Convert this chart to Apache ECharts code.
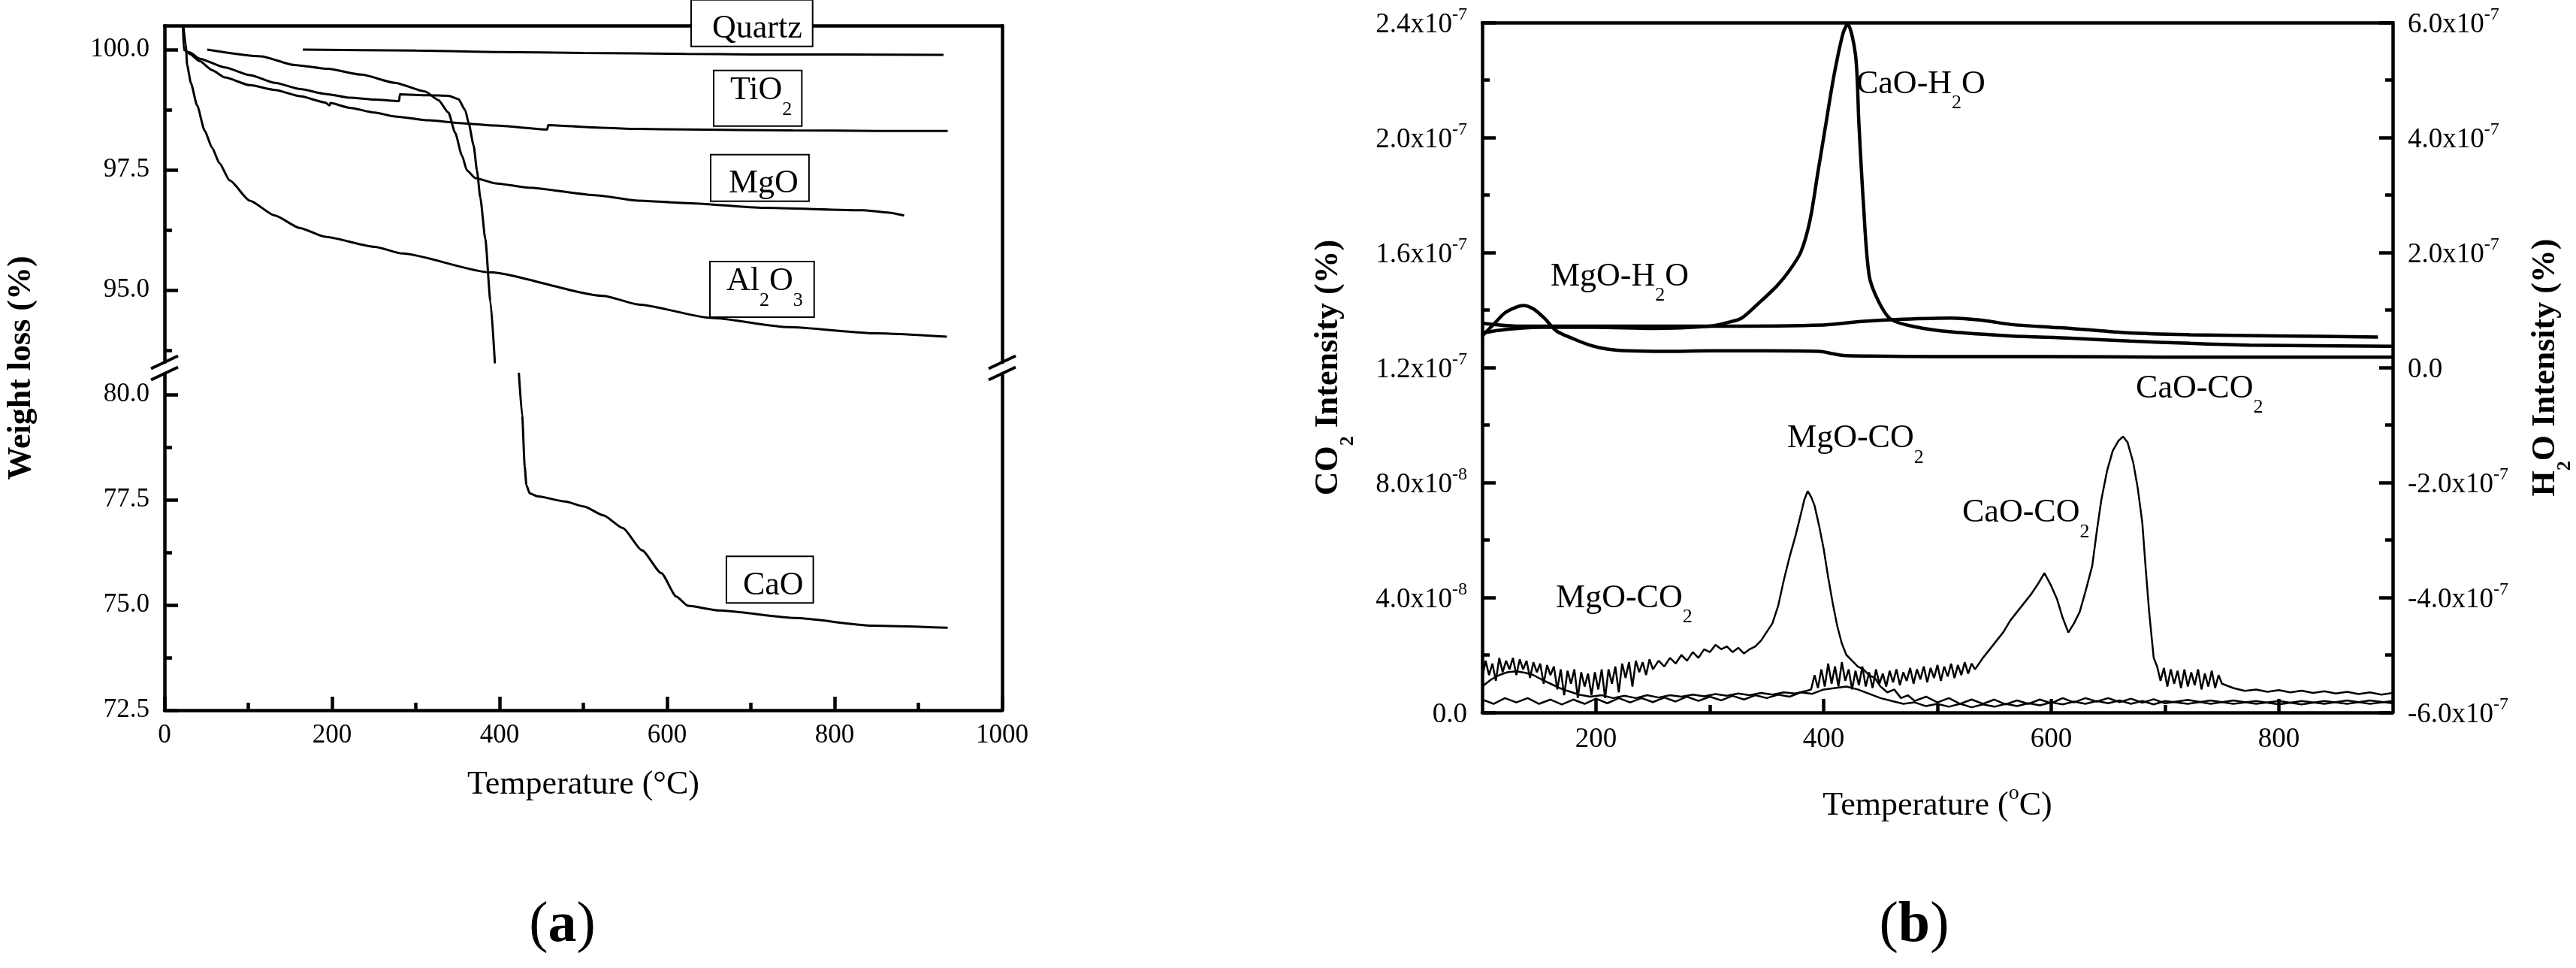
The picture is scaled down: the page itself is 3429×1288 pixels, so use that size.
<!DOCTYPE html>
<html>
<head>
<meta charset="utf-8">
<script src="https://cdn.jsdelivr.net/npm/echarts@6/dist/echarts.min.js"></script>
<style>
  html, body { margin: 0; padding: 0; background: #fff; }
  #chart { width: 3429px; height: 1288px; }
</style>
</head>
<body>
<div id="chart"></div>
<script>
// ---------- (a) weight loss (%) vs temperature (°C) ----------
const quartzT = [165, 300, 400, 500, 623, 700, 800, 930];
const quartzW = [100.0, 99.98, 99.95, 99.93, 99.91, 99.9, 99.9, 99.89];

const tio2T = [22, 23, 25, 30, 42, 57, 72, 102, 132, 162, 192, 197, 198, 221, 251, 275, 315, 355, 395, 457, 458, 516, 566, 623, 750, 850, 935];
const tio2W = [100.5, 100.0, 99.98, 99.91, 99.76, 99.57, 99.42, 99.26, 99.16, 99.03, 98.9, 98.84, 98.89, 98.79, 98.69, 98.61, 98.53, 98.47, 98.42, 98.34, 98.43, 98.38, 98.35, 98.34, 98.32, 98.31, 98.31];

const mgoT = [51, 115, 155, 195, 235, 275, 311, 327, 339, 347, 355, 361, 371, 395, 435, 516, 566, 623, 715, 835, 865, 883];
const mgoW = [100.0, 99.86, 99.68, 99.6, 99.48, 99.31, 99.13, 98.95, 98.69, 98.27, 97.8, 97.49, 97.33, 97.22, 97.13, 96.97, 96.86, 96.81, 96.71, 96.66, 96.61, 96.55];

const al2o3T = [22.4, 25.4, 27, 31.4, 38.9, 47.8, 56.8, 65.5, 77.8, 101.7, 131.7, 161.6, 191.5, 251, 284, 388, 524, 566, 653, 745, 850, 934];
const al2o3W = [100.5, 100.09, 99.68, 99.31, 98.84, 98.32, 97.96, 97.64, 97.28, 96.86, 96.55, 96.29, 96.11, 95.9, 95.76, 95.37, 94.88, 94.7, 94.42, 94.23, 94.1, 94.03];

// CaO runs through the axis break: upper part then lower part
const caoHighT = [23, 30, 42, 72, 102, 132, 162, 192, 222, 251, 280, 281, 315, 339, 351, 359, 363, 369, 373, 377, 383, 389, 395];
const caoHighW = [100.0, 99.94, 99.81, 99.63, 99.47, 99.31, 99.18, 99.08, 99.0, 98.96, 98.93, 99.07, 99.05, 99.04, 98.97, 98.74, 98.48, 98.01, 97.49, 96.92, 96.06, 94.78, 93.3];
const caoLowT = [423, 427, 430, 432, 436, 446, 478, 501, 524, 547, 570, 593, 611, 625, 662, 753, 845, 935];
const caoLowW = [80.52, 79.5, 78.3, 77.85, 77.65, 77.58, 77.46, 77.34, 77.13, 76.83, 76.3, 75.76, 75.2, 74.98, 74.87, 74.69, 74.51, 74.46];

const ticksHi = [95, 97.5, 100];
const minorHi = [93.75, 96.25, 98.75];
const ticksLo = [72.5, 75, 77.5, 80];
const minorLo = [73.75, 76.25, 78.75];

// ---------- (b) MS intensity vs temperature ----------
// H2O in units of 1e-7 (right axis)
const mgoH2oT = [100, 110, 120, 130, 136, 145, 155, 165, 180, 196, 210, 228, 260, 300, 350, 396, 408, 417, 440, 500, 600, 700, 800, 900];
const mgoH2oV = [0.55, 0.75, 0.95, 1.05, 1.08, 1.02, 0.85, 0.64, 0.5, 0.38, 0.32, 0.29, 0.28, 0.29, 0.29, 0.28, 0.24, 0.21, 0.2, 0.19, 0.19, 0.18, 0.18, 0.18];

const caoH2oT = [100, 120, 150, 200, 250, 300, 315, 328, 343, 359, 370, 380, 388, 395, 402, 409, 417, 421, 428, 431, 435, 440, 448, 459, 480, 512, 564, 617, 669, 722, 774, 900];
const caoH2oV = [0.6, 0.66, 0.7, 0.7, 0.68, 0.72, 0.78, 0.86, 1.12, 1.42, 1.69, 2.01, 2.56, 3.4, 4.24, 5.07, 5.81, 5.97, 5.44, 4.24, 2.84, 1.6, 1.16, 0.84, 0.71, 0.62, 0.55, 0.51, 0.46, 0.42, 0.39, 0.37];

const baseH2oT = [100, 130, 200, 300, 400, 433, 470, 512, 540, 564, 600, 617, 669, 722, 800, 887];
const baseH2oV = [0.77, 0.72, 0.72, 0.72, 0.74, 0.8, 0.84, 0.86, 0.82, 0.75, 0.7, 0.68, 0.6, 0.57, 0.55, 0.53];

// CO2 in units of 1e-8 (left axis), noisy traces read point by point
const mgoCo2T = [
  100, 103, 106, 109, 112, 115, 118, 121, 124, 127, 130, 133, 136, 139, 142, 145, 148, 151, 154, 157,
  160, 163, 166, 169, 172, 175, 178, 181, 184, 187, 190, 193, 196, 199, 202, 205, 208, 211, 214, 217,
  220, 223, 226, 229, 232, 235, 238, 241, 244, 247, 250,
  255, 260, 265, 270, 275, 280, 285, 290, 295, 300, 305, 310, 315, 320, 325, 330, 335, 340, 345,
  350, 355, 360, 365, 370, 375, 380, 383, 386, 389, 392, 396, 400, 404, 408, 412, 416, 420, 425, 430, 435, 440, 445,
  450, 456, 462, 468, 474, 480,
  490, 500, 510, 520, 530, 540, 550, 560, 570, 580, 590, 600, 610, 620, 630, 640, 650, 660, 670, 680, 690, 700,
  720, 740, 760, 780, 800, 820, 840, 860, 880, 900
];
const mgoCo2V = [
  1.2, 1.8, 1.3, 1.7, 1.1, 1.9, 1.4, 1.8, 1.5, 1.9, 1.3, 1.85, 1.5, 1.8, 1.2, 1.75, 1.4, 1.7, 1.0, 1.65,
  1.3, 1.6, 0.8, 1.5, 0.6, 1.45, 1.0, 1.5, 0.5, 1.4, 0.9, 1.35, 0.6, 1.4, 0.8, 1.5, 0.5, 1.5, 1.0, 1.6,
  0.7, 1.7, 1.2, 1.75, 0.9, 1.8, 1.4, 1.75, 1.3, 1.85, 1.5,
  1.8, 1.6, 1.9, 1.7, 2.0, 1.8, 2.1, 1.9, 2.2, 2.1, 2.35, 2.2, 2.3, 2.1, 2.25, 2.05, 2.2, 2.3, 2.5,
  2.8, 3.1, 3.7, 4.6, 5.4, 6.1, 6.9, 7.4, 7.7, 7.5, 7.2, 6.5, 5.7, 4.7, 3.8, 3.0, 2.4, 2.0, 1.8, 1.6, 1.5, 1.3, 1.2,
  0.9, 0.7, 0.8, 0.5, 0.6, 0.4,
  0.55, 0.35, 0.5, 0.3, 0.45, 0.3, 0.45, 0.28, 0.42, 0.3, 0.45, 0.32, 0.5, 0.35, 0.5, 0.38, 0.5, 0.36, 0.48, 0.34, 0.46, 0.32,
  0.44, 0.3, 0.42, 0.3, 0.4, 0.28, 0.4, 0.3, 0.42, 0.32
];

const caoCo2T = [
  100, 108, 115, 122, 130, 138, 145, 152, 160, 168, 175, 185, 195, 205, 215, 225, 235, 245, 255, 265,
  275, 285, 295, 305, 315, 325, 335, 345, 355, 365, 375, 385,
  389, 392, 395, 398, 401, 404, 407, 410, 413, 416, 419, 422, 425, 428, 431, 434, 437, 440, 443, 446,
  449, 452, 455, 458, 461, 464, 467, 470, 473, 476, 479, 482, 485, 488, 491, 494, 497, 500, 503, 506,
  509, 512, 515, 518, 521, 524, 527, 530, 533,
  540, 546, 552, 558, 564, 570, 576, 582, 588, 594, 600, 605, 610, 615, 620, 625, 630, 636, 640, 644,
  649, 654, 659, 663, 667, 672, 676, 680, 683, 686, 690,
  693, 696, 699, 702, 705, 708, 711, 714, 717, 720, 723, 726, 729, 732, 735, 738, 741, 744, 747, 750,
  760, 770, 780, 790, 800, 810, 820, 830, 840, 850, 860, 870, 880, 890, 900
];
const caoCo2V = [
  0.9, 1.15, 1.3, 1.4, 1.43, 1.38, 1.3, 1.15, 1.0, 0.85, 0.75, 0.62, 0.55, 0.6, 0.5, 0.58, 0.5, 0.6, 0.52, 0.6,
  0.55, 0.62, 0.56, 0.64, 0.58, 0.66, 0.6, 0.68, 0.62, 0.7, 0.66, 0.75,
  0.8, 1.3, 0.85, 1.5, 0.9, 1.7, 1.0, 1.6, 0.9, 1.75, 1.1, 1.5, 0.8, 1.45, 0.95, 1.6, 0.9, 1.4, 0.85, 1.5,
  1.0, 1.35, 0.9, 1.45, 1.05, 1.5, 0.95, 1.4, 1.1, 1.55, 1.0, 1.5, 1.15, 1.6, 1.05, 1.55, 1.2, 1.65, 1.1, 1.6,
  1.25, 1.7, 1.2, 1.65, 1.3, 1.75, 1.35, 1.7, 1.5,
  1.9, 2.2, 2.5, 2.8, 3.2, 3.5, 3.8, 4.1, 4.45, 4.85, 4.4, 3.95, 3.3, 2.78, 3.1, 3.5, 4.2, 5.1, 6.3, 7.4,
  8.4, 9.1, 9.45, 9.6, 9.4, 8.7, 7.8, 6.6, 5.0, 3.5, 1.9,
  1.6, 1.1, 1.55, 0.9, 1.5, 1.0, 1.45, 0.85, 1.5, 0.9, 1.4, 0.95, 1.5, 0.8, 1.35, 0.9, 1.45, 0.85, 1.3, 1.0,
  0.85, 0.75, 0.8, 0.72, 0.78, 0.7, 0.76, 0.68, 0.74, 0.66, 0.72, 0.64, 0.7, 0.62, 0.68
];

const baseCo2T = [100, 110, 120, 130, 140, 150, 160, 170, 180, 190, 200, 210, 220, 230, 240, 250, 260, 270, 280, 290, 300, 310, 320, 330, 340, 350, 360, 370, 380, 390, 400, 410, 420, 430, 440, 450, 460, 470, 480, 490, 500, 510, 520, 530, 540, 550, 560, 570, 580, 590, 600, 610, 620, 630, 640, 650, 660, 670, 680, 690, 700, 720, 740, 760, 780, 800, 820, 840, 860, 880, 900];
const baseCo2V = [0.45, 0.3, 0.5, 0.35, 0.5, 0.3, 0.45, 0.28, 0.45, 0.3, 0.48, 0.32, 0.5, 0.35, 0.5, 0.36, 0.52, 0.38, 0.55, 0.4, 0.55, 0.42, 0.58, 0.45, 0.6, 0.5, 0.62, 0.55, 0.7, 0.65, 0.8, 0.85, 0.9, 0.8, 0.65, 0.5, 0.4, 0.3, 0.35, 0.22, 0.3, 0.2, 0.3, 0.18, 0.28, 0.2, 0.3, 0.22, 0.32, 0.25, 0.35, 0.28, 0.38, 0.3, 0.4, 0.32, 0.42, 0.3, 0.4, 0.28, 0.4, 0.3, 0.42, 0.3, 0.4, 0.28, 0.4, 0.3, 0.42, 0.3, 0.4];

const ticksTb = [200, 400, 600, 800];
const minorTb = [300, 500, 700];
const ticksCo2 = [0, 4e-8, 8e-8, 1.2e-7, 1.6e-7, 2e-7, 2.4e-7];
const minorCo2 = [2e-8, 6e-8, 1e-7, 1.4e-7, 1.8e-7, 2.2e-7];
const ticksH2o = [-6e-7, -4e-7, -2e-7, 0, 2e-7, 4e-7, 6e-7];
const minorH2o = [-5e-7, -3e-7, -1e-7, 1e-7, 3e-7, 5e-7];

// ---------- chart ----------
const SERIF = '"Liberation Serif", "Times New Roman", serif';
const zip = (xs, ys, k = 1) => xs.map((x, i) => [x, ys[i] * k]);

const axisLineOn = { show: true, onZero: false, lineStyle: { color: '#000', width: 4.5 } };
const tickLine = { color: '#000', width: 4.5 };
const off = { show: false };

function sciLabel(v) {
  if (Math.abs(v) < 1e-12) return '{m|0.0}';
  const e = Math.floor(Math.log10(Math.abs(v)) + 1e-9);
  const m = v / Math.pow(10, e);
  return '{m|' + m.toFixed(1) + 'x10}{e|' + e + '}';
}
const sciRich = {
  m: { fontFamily: SERIF, fontSize: 37, color: '#000', lineHeight: 44, verticalAlign: 'bottom' },
  e: { fontFamily: SERIF, fontSize: 24, color: '#000', lineHeight: 22, verticalAlign: 'top' }
};

function valAxis(o) {
  return Object.assign({
    type: 'value', axisLine: axisLineOn, axisTick: off, axisLabel: off,
    splitLine: off, minorSplitLine: off
  }, o);
}
function ticks(vals, len) {
  return { show: true, inside: true, length: len, lineStyle: tickLine, customValues: vals };
}
function overlay(o, vals) {
  return valAxis(Object.assign({ axisLine: { show: false, onZero: false }, axisTick: ticks(vals, 10) }, o));
}

const lineA = (name, data, xi, yi) => ({
  name, type: 'line', data, xAxisIndex: xi, yAxisIndex: yi,
  showSymbol: false, smooth: 0.2, smoothMonotone: 'x', silent: true,
  lineStyle: { color: '#000', width: 3 }
});
const lineB = (name, data, yi, w, smooth) => ({
  name, type: 'line', data, xAxisIndex: 2, yAxisIndex: yi,
  showSymbol: false, smooth, silent: true,
  lineStyle: { color: '#000', width: w }
});

const chart = echarts.init(document.getElementById('chart'));
chart.setOption({
  animation: false,
  backgroundColor: '#fff',
  grid: [
    { left: 219, top: 34, width: 1115, height: 448, outerBoundsMode: 'none' },
    { left: 219, top: 497, width: 1115, height: 448, outerBoundsMode: 'none' },
    { left: 1973, top: 30, width: 1212, height: 918, outerBoundsMode: 'none' }
  ],
  xAxis: [
    valAxis({ gridIndex: 0, position: 'top', min: 0, max: 1000 }),
    valAxis({
      gridIndex: 1, position: 'bottom', min: 0, max: 1000, interval: 200,
      axisTick: { show: true, inside: true, length: 18, lineStyle: tickLine },
      minorTick: { show: true, splitNumber: 2, length: 10, lineStyle: tickLine },
      axisLabel: { show: true, color: '#000', fontFamily: SERIF, fontSize: 35, margin: 16, formatter: v => String(v) }
    }),
    valAxis({
      gridIndex: 2, position: 'bottom', min: 100, max: 900,
      axisTick: ticks(ticksTb, 18),
      axisLabel: { show: true, color: '#000', fontFamily: SERIF, fontSize: 37, margin: 18, customValues: ticksTb, formatter: v => String(v) }
    }),
    overlay({ gridIndex: 2, position: 'bottom', min: 100, max: 900 }, minorTb),
    valAxis({ gridIndex: 2, position: 'top', min: 100, max: 900 })
  ],
  yAxis: [
    valAxis({
      gridIndex: 0, position: 'left', min: 93.5, max: 100.5,
      axisTick: ticks(ticksHi, 18),
      axisLabel: { show: true, color: '#000', fontFamily: SERIF, fontSize: 35, margin: 20, customValues: ticksHi, formatter: v => v.toFixed(1) }
    }),
    overlay({ gridIndex: 0, position: 'left', min: 93.5, max: 100.5 }, minorHi),
    valAxis({ gridIndex: 0, position: 'right', min: 93.5, max: 100.5 }),
    valAxis({
      gridIndex: 1, position: 'left', min: 72.5, max: 80.5,
      axisTick: ticks(ticksLo, 18),
      axisLabel: { show: true, color: '#000', fontFamily: SERIF, fontSize: 35, margin: 20, customValues: ticksLo, formatter: v => v.toFixed(1) }
    }),
    overlay({ gridIndex: 1, position: 'left', min: 72.5, max: 80.5 }, minorLo),
    valAxis({ gridIndex: 1, position: 'right', min: 72.5, max: 80.5 }),
    valAxis({
      gridIndex: 2, position: 'left', min: 0, max: 2.4e-7,
      axisTick: ticks(ticksCo2, 18),
      axisLabel: { show: true, margin: 20, customValues: ticksCo2, formatter: sciLabel, rich: sciRich }
    }),
    overlay({ gridIndex: 2, position: 'left', min: 0, max: 2.4e-7 }, minorCo2),
    valAxis({
      gridIndex: 2, position: 'right', min: -6e-7, max: 6e-7,
      axisTick: ticks(ticksH2o, 18),
      axisLabel: { show: true, margin: 20, customValues: ticksH2o, formatter: sciLabel, rich: sciRich }
    }),
    overlay({ gridIndex: 2, position: 'right', min: -6e-7, max: 6e-7 }, minorH2o)
  ],
  series: [
    lineA('Quartz', zip(quartzT, quartzW), 0, 0),
    lineA('TiO2', zip(tio2T, tio2W), 0, 0),
    lineA('MgO', zip(mgoT, mgoW), 0, 0),
    lineA('Al2O3', zip(al2o3T, al2o3W), 0, 0),
    lineA('CaO', zip(caoHighT, caoHighW), 0, 0),
    lineA('CaO ', zip(caoLowT, caoLowW), 1, 3),
    lineB('MgO-H2O', zip(mgoH2oT, mgoH2oV, 1e-7), 8, 4.5, 0.3),
    lineB('CaO-H2O', zip(caoH2oT, caoH2oV, 1e-7), 8, 4.5, 0.3),
    lineB('H2O base', zip(baseH2oT, baseH2oV, 1e-7), 8, 4.5, 0.3),
    lineB('MgO-CO2', zip(mgoCo2T, mgoCo2V, 1e-8), 6, 2.5, false),
    lineB('CaO-CO2', zip(caoCo2T, caoCo2V, 1e-8), 6, 2.5, false),
    lineB('CO2 base', zip(baseCo2T, baseCo2V, 1e-8), 6, 2.5, false)
  ]
});

// ---------- annotations, titles, axis-break marks ----------
const px = (g, x, y) => chart.convertToPixel({ gridIndex: g }, [x, y]);

const richSub = (bold) => ({
  m: { fontFamily: SERIF, fontSize: 44, fontWeight: bold ? 'bold' : 'normal', fill: '#000', lineHeight: 60, verticalAlign: 'top' },
  s: { fontFamily: SERIF, fontSize: 26, fontWeight: bold ? 'bold' : 'normal', fill: '#000', lineHeight: 18, verticalAlign: 'bottom' },
  q: { fontFamily: SERIF, fontSize: 44, fill: '#000', lineHeight: 54, verticalAlign: 'bottom' },
  p: { fontFamily: SERIF, fontSize: 28, fill: '#000', lineHeight: 24, verticalAlign: 'top' },
  n: { fontFamily: SERIF, fontSize: 44, fill: '#000', lineHeight: 52, verticalAlign: 'bottom' }
});

const g = [];

// boxed sample labels in (a): anchored at the box's top-left corner
const boxesA = [
  { text: '{q|Quartz}', grid: 0, at: [629.6, 101.02], pad: [6, 13, 0, 27] },
  { text: '{m|TiO}{s|2}', grid: 0, at: [656.5, 99.55], pad: [4, 12, 8, 21] },
  { text: '{q|MgO}', grid: 0, at: [652.9, 97.8], pad: [6, 13, 0, 23] },
  { text: '{m|Al}{s|2}{m|O}{s|3}', grid: 0, at: [652, 95.58], pad: [4, 14, 8, 21] },
  { text: '{q|CaO}', grid: 1, at: [671.7, 76.14], pad: [6, 12, 0, 21] }
];
boxesA.forEach(b => {
  const [x, y] = px(b.grid, b.at[0], b.at[1]);
  g.push({
    type: 'text', z: 100, x, y,
    style: {
      text: b.text, rich: richSub(false), align: 'left', verticalAlign: 'top',
      backgroundColor: '#fff', borderColor: '#000', borderWidth: 2, padding: b.pad
    }
  });
});

// peak labels in (b): anchored at top-left of the text line
const labelsB = [
  { text: '{m|CaO-H}{s|2}{m|O}', at: [428.7, 2.242e-7] },
  { text: '{m|MgO-H}{s|2}{m|O}', at: [160, 1.574e-7] },
  { text: '{m|CaO-CO}{s|2}', at: [674.3, 1.183e-7] },
  { text: '{m|MgO-CO}{s|2}', at: [368, 1.01e-7] },
  { text: '{m|CaO-CO}{s|2}', at: [521.8, 0.751e-7] },
  { text: '{m|MgO-CO}{s|2}', at: [164.7, 0.455e-7] }
];
labelsB.forEach(l => {
  const [x, y] = px(2, l.at[0], l.at[1]);
  g.push({ type: 'text', z: 100, x, y, style: { text: l.text, rich: richSub(false), align: 'left', verticalAlign: 'top' } });
});

// axis titles
const [aL, aT] = px(0, 0, 100.5);
const [aR, aB] = px(1, 1000, 72.5);
const [bL, bT] = px(2, 100, 2.4e-7);
const [bR, bB] = px(2, 900, 0);
const title = (text, x, y, rot, bold) => ({
  type: 'text', z: 100, x, y, rotation: rot,
  style: { text, rich: richSub(bold), align: 'center', verticalAlign: 'middle' }
});
g.push(title('{m|Weight loss (%)}', aL - 182, (aT + aB) / 2, Math.PI / 2, true));
g.push(title('{m|Temperature (°C)}', (aL + aR) / 2, aB + 107, 0, false));
g.push(title('{n|Temperature (}{p|o}{n|C)}', (bL + bR) / 2, bB + 120, 0, false));
g.push(title('{m|CO}{s|2}{m| Intensity (%)}', bL - 196, (bT + bB) / 2, Math.PI / 2, true));
g.push(title('{m|H}{s|2}{m|O Intensity (%)}', bR + 212, (bT + bB) / 2, Math.PI / 2, true));

// panel letters
const letterRich = {
  r: { fontFamily: SERIF, fontSize: 76, fill: '#000' },
  b: { fontFamily: SERIF, fontSize: 76, fontWeight: 'bold', fill: '#000' }
};
g.push({ type: 'text', z: 100, x: (aL + aR) / 2 - 28, y: 1232, style: { text: '{r|(}{b|a}{r|)}', rich: letterRich, align: 'center', verticalAlign: 'middle' } });
g.push({ type: 'text', z: 100, x: (bL + bR) / 2 - 31, y: 1232, style: { text: '{r|(}{b|b}{r|)}', rich: letterRich, align: 'center', verticalAlign: 'middle' } });

// "//" marks where the weight axis is broken
[px(0, 0, 93.5), px(1, 0, 80.5), px(0, 1000, 93.5), px(1, 1000, 80.5)].forEach(([x, y]) => {
  g.push({ type: 'line', z: 100, shape: { x1: x - 18, y1: y + 8.5, x2: x + 18, y2: y - 8.5 }, style: { stroke: '#000', lineWidth: 4 } });
});

chart.setOption({ graphic: g });
</script>
</body>
</html>
